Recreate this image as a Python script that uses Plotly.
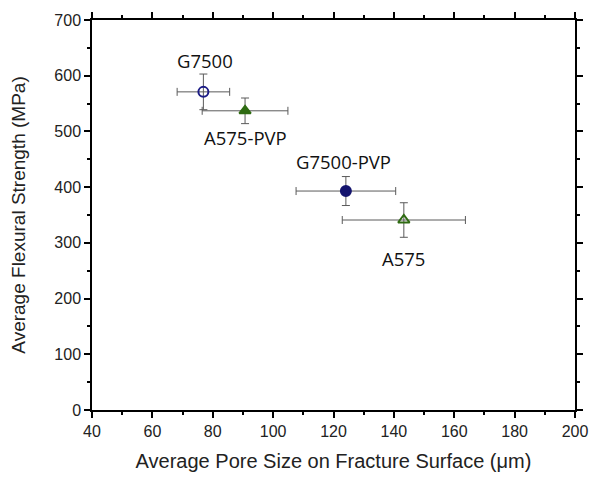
import plotly.graph_objects as go

samples = ["G7500", "A575-PVP", "G7500-PVP", "A575"]
pore_size = [76.9, 90.7, 124.1, 143.3]
pore_err = [8.7, 14.2, 16.5, 20.4]
strength = [571, 537, 393, 341]
strength_err = [32, 23, 26, 31]
symbols = ["circle-open", "triangle-up", "circle", "triangle-up-open"]
colors = ["#1c1c86", "#2f6b12", "#14146e", "#2f6b12"]
label_x = [77.4, 90.9, 123.3, 143.1]
label_y = [627, 490, 446, 272]

fig = go.Figure()
for i, s in enumerate(samples):
    fig.add_trace(go.Scatter(
        x=[pore_size[i]], y=[strength[i]], mode="markers", name=s,
        marker=dict(symbol=symbols[i], size=10, color=colors[i],
                    line=dict(width=2, color=colors[i])),
        error_x=dict(type="data", array=[pore_err[i]], color="#5a5a5a", thickness=1, width=4),
        error_y=dict(type="data", array=[strength_err[i]], color="#5a5a5a", thickness=1, width=4),
        showlegend=False))
    fig.add_annotation(x=label_x[i], y=label_y[i], text=s, showarrow=False,
                       font=dict(family="Open Sans", size=18.5, color="#111111"))

tickfont = dict(family="Liberation Sans, Arial", size=16, color="#222")
axis_common = dict(showline=True, linecolor="black", linewidth=1.5, mirror="ticks",
                   ticks="outside", ticklen=6, tickwidth=1.5, tickcolor="black",
                   showgrid=False, zeroline=False, automargin=False,
                   ticklabeloverflow="allow", tickfont=tickfont)
fig.update_xaxes(range=[40, 200], dtick=20,
                 minor=dict(ticks="outside", ticklen=3, tickwidth=1.5, dtick=10, tickcolor="black"),
                 title=dict(text="Average Pore Size on Fracture Surface (\u03bcm)",
                            font=dict(family="Liberation Sans, Arial", size=20, color="#222"),
                            standoff=15),
                 **axis_common)
fig.update_yaxes(range=[0, 700], dtick=100,
                 minor=dict(ticks="outside", ticklen=3, tickwidth=1.5, dtick=50, tickcolor="black"),
                 title=dict(text="Average Flexural Strength (MPa)",
                            font=dict(family="Liberation Sans, Arial", size=19, color="#222"),
                            standoff=24),
                 **axis_common)
fig.update_layout(width=590, height=481, margin=dict(l=92, r=15, t=20, b=71),
                  plot_bgcolor="white", paper_bgcolor="white")
# remove the default page margin so the figure fills the window exactly
fig.write_html("out.html", config={"displayModeBar": False},
               post_script="document.body.style.margin='0';document.body.style.overflow='hidden';")
